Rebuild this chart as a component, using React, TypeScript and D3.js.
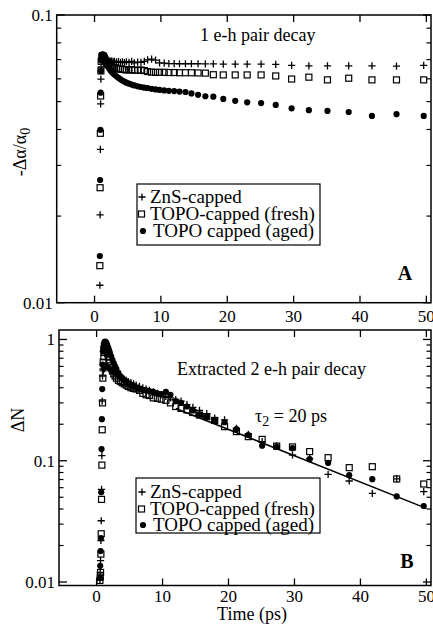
import React from "react";
import * as d3 from "d3";

const W = 433;
const H = 626;
const FONT = '"Liberation Serif", "Times New Roman", Times, serif';

// ---------- Panel A data (1 e-h pair decay) ----------
const tA = [
  0.8, 0.84, 0.88, 0.92, 0.96,
  1.0, 1.1, 1.2, 1.3, 1.4, 1.5, 1.6, 1.7, 1.8, 1.9,
  2.0, 2.2, 2.4, 2.6, 2.8,
  3.0, 3.3, 3.6, 3.9, 4.2, 4.5, 4.8,
  5.2, 5.6, 6.0,
  6.5, 7.0, 7.5, 8.0,
  8.6, 9.2, 9.8,
  10.5, 11.2, 12.0, 12.8, 13.7, 14.6, 15.6, 16.7,
  17.9, 19.4, 21.2, 23.0, 25.1, 27.3, 29.7, 32.3, 35.1, 38.3, 41.8, 45.5, 49.6,
];
const znsA = [
  0.0115, 0.0202, 0.0341, 0.0491, 0.0599,
  0.066, 0.07, 0.0712, 0.0716, 0.0714, 0.071, 0.0706, 0.0702, 0.07, 0.0697,
  0.0695, 0.0692, 0.069, 0.0693, 0.0688,
  0.069, 0.0686, 0.0689, 0.0684, 0.0687, 0.0683, 0.0688,
  0.0684, 0.069, 0.0682,
  0.0686, 0.0684, 0.069, 0.0698,
  0.0702, 0.0697, 0.0682,
  0.068, 0.0678, 0.0678, 0.0677, 0.0677, 0.0677, 0.0677, 0.0676,
  0.0676, 0.0675, 0.0675, 0.0675, 0.0675, 0.0674, 0.0668, 0.0666, 0.0666, 0.0666, 0.0666, 0.0664, 0.0668,
];
const freshA = [
  0.01345, 0.0251, 0.0388, 0.0523, 0.0639,
  0.069, 0.0715, 0.0722, 0.072, 0.0714, 0.0706, 0.0698, 0.069, 0.0684, 0.0678,
  0.0674, 0.0668, 0.0664, 0.066, 0.0657,
  0.0655, 0.0652, 0.065, 0.0649, 0.0647, 0.0646, 0.0645,
  0.0644, 0.0646, 0.0643,
  0.0642, 0.0644, 0.0641, 0.0636,
  0.0633, 0.0632, 0.0632,
  0.0632, 0.0631, 0.0631, 0.063, 0.063, 0.063, 0.0629, 0.0628,
  0.062, 0.0619, 0.0619, 0.0619, 0.0619, 0.0614, 0.0599, 0.0608, 0.0595, 0.0603, 0.0595, 0.0595, 0.0595,
];
const agedA = [
  0.01453, 0.0267, 0.0399, 0.0537, 0.0639,
  0.0695, 0.072, 0.073, 0.0728, 0.072, 0.071, 0.07, 0.069, 0.068, 0.0672,
  0.0664, 0.0652, 0.0642, 0.0634, 0.0627,
  0.0621, 0.0612, 0.0605, 0.0598, 0.0592, 0.0587, 0.0582,
  0.0577, 0.0573, 0.0569,
  0.0565, 0.0562, 0.0559, 0.0557,
  0.0554, 0.0551, 0.0549,
  0.0547, 0.0545, 0.0544, 0.0542, 0.054, 0.0534, 0.0528, 0.0522,
  0.052, 0.0511, 0.0503, 0.0497, 0.0494, 0.0487, 0.0474, 0.0467, 0.0464, 0.046, 0.0446, 0.0452, 0.0446,
];

// ---------- Panel B data (extracted 2 e-h pair decay) ----------
const tB = [
  0.5, 0.55, 0.6, 0.65, 0.7, 0.75, 0.8, 0.85, 0.9, 0.95,
  1.0, 1.1, 1.2, 1.3, 1.4, 1.5, 1.6, 1.7, 1.8, 1.9,
  2.0, 2.2, 2.4, 2.6, 2.8,
  3.0, 3.3, 3.6, 3.9, 4.2, 4.5, 4.8,
  5.2, 5.6, 6.0,
  6.5, 7.0, 7.5, 8.0,
  8.6, 9.2, 9.8,
  10.5, 11.2, 12.0, 12.8, 13.7, 14.6, 15.6, 16.7,
  17.9, 19.4, 21.2, 23.0, 25.1, 27.3, 29.7, 32.3, 35.1, 38.3, 41.8, 45.5, 49.6,
];
const znsB = [
  0.0105, 0.012, 0.015, 0.022, 0.032, 0.058, 0.11, 0.31, 0.5, 0.57,
  0.55, 0.57, 0.58, 0.59, 0.6, 0.6, 0.6, 0.59, 0.58, 0.575,
  0.57, 0.56, 0.55, 0.54, 0.53,
  0.52, 0.5, 0.49, 0.48, 0.47, 0.46, 0.45,
  0.44, 0.43, 0.42,
  0.41, 0.4, 0.39, 0.38,
  0.37, 0.36, 0.35,
  0.34, 0.33, 0.32, 0.31, 0.29, 0.275, 0.26, 0.245,
  0.225, 0.217, 0.185, 0.165, 0.144, 0.132, 0.1115, 0.104, 0.0773, 0.0681, 0.0539, 0.0708, 0.0556,
];
const freshB = [
  0.0103, 0.011, 0.012, 0.017, 0.025, 0.048, 0.092, 0.18, 0.3, 0.48,
  0.65, 0.72, 0.78, 0.82, 0.84, 0.83, 0.8, 0.76, 0.72, 0.68,
  0.64, 0.59, 0.55, 0.52, 0.5,
  0.48, 0.46, 0.45, 0.44, 0.43, 0.42, 0.41,
  0.4, 0.395, 0.39,
  0.38, 0.36, 0.35, 0.345,
  0.33, 0.327, 0.322,
  0.315, 0.3, 0.28, 0.27, 0.262, 0.25, 0.238, 0.231,
  0.215, 0.191, 0.174, 0.158, 0.15, 0.132, 0.13, 0.119, 0.106, 0.0877, 0.0893, 0.0708, 0.0643,
];
const agedB = [
  0.0108, 0.0136, 0.018, 0.023, 0.055, 0.125, 0.22, 0.39, 0.62, 0.8,
  0.86, 0.92, 0.95, 0.96, 0.95, 0.93, 0.9, 0.87, 0.84, 0.81,
  0.78, 0.73, 0.68, 0.64, 0.6,
  0.57, 0.53, 0.5, 0.48, 0.46, 0.44, 0.43,
  0.42, 0.41, 0.4,
  0.39, 0.385, 0.38, 0.375,
  0.37, 0.36, 0.355,
  0.37, 0.35, 0.31, 0.3, 0.28, 0.26, 0.24, 0.23,
  0.215, 0.208, 0.182, 0.163, 0.133, 0.13, 0.127, 0.103, 0.096, 0.076, 0.0705, 0.0508, 0.0423,
];
// tau2 = 20 ps fit (straight on log axis): endpoints
const fitT = [12, 50];
const fitV = [0.27, 0.0405];

const xTicks = [0, 10, 20, 30, 40, 50];
const legendLabels = ["ZnS-capped", "TOPO-capped (fresh)", "TOPO capped (aged)"];
const markerKinds = ["plus", "square", "circle"];

function Marker({ kind, x, y }: { kind: string; x: number; y: number }) {
  if (kind === "plus")
    return (
      <path
        d={`M${x - 3.6},${y}H${x + 3.6}M${x},${y - 3.6}V${y + 3.6}`}
        stroke="#000"
        strokeWidth={1.3}
        fill="none"
      />
    );
  if (kind === "square")
    return <rect x={x - 3} y={y - 3} width={6} height={6} fill="none" stroke="#000" strokeWidth={1.2} />;
  return <circle cx={x} cy={y} r={3.1} fill="#000" />;
}

type PanelProps = {
  left: number;
  right: number;
  top: number;
  bottom: number;
  yDomain: [number, number];
  yMajor: number[];
  yLabels: string[];
  t: number[];
  series: number[][];
  fit?: boolean;
  children?: React.ReactNode;
  xLabelY: number;
};

function Panel(p: PanelProps) {
  const x = d3.scaleLinear().domain([-5.7, 50.7]).range([p.left, p.right]);
  const y = d3.scaleLog().domain(p.yDomain).range([p.bottom, p.top]);
  const minor: number[] = [];
  [0.01, 0.1].forEach((d) => {
    for (let k = 2; k <= 9; k++) {
      const v = d * k;
      if (v > p.yDomain[0] && v < p.yDomain[1]) minor.push(v);
    }
  });
  const order = [2, 1, 0];
  const line = d3
    .line<number>()
    .x((_, i) => x(fitT[i]))
    .y((d) => y(d));
  return (
    <g>
      {p.fit && <path d={line(fitV) || ""} stroke="#000" strokeWidth={1.5} fill="none" />}
      {order.map((si) =>
        p.series[si].map((v, i) =>
          i < p.t.length ? <Marker key={`${si}-${i}`} kind={markerKinds[si]} x={x(p.t[i])} y={y(v)} /> : null
        )
      )}
      <rect
        x={p.left}
        y={p.top}
        width={p.right - p.left}
        height={p.bottom - p.top}
        fill="none"
        stroke="#000"
        strokeWidth={1.5}
      />
      {xTicks.map((d) => (
        <g key={"xt" + d}>
          <line x1={x(d)} x2={x(d)} y1={p.bottom} y2={p.bottom - 7} stroke="#000" strokeWidth={1.3} />
          <line x1={x(d)} x2={x(d)} y1={p.top} y2={p.top + 7} stroke="#000" strokeWidth={1.3} />
          <text x={x(d)} y={p.xLabelY} textAnchor="middle" fontSize={17} fontFamily={FONT}>
            {d}
          </text>
        </g>
      ))}
      {p.yMajor.map((d, i) => (
        <g key={"ym" + d}>
          <line x1={p.left} x2={p.left + 8} y1={y(d)} y2={y(d)} stroke="#000" strokeWidth={1.3} />
          <line x1={p.right} x2={p.right - 8} y1={y(d)} y2={y(d)} stroke="#000" strokeWidth={1.3} />
          <text x={p.left - 4} y={y(d)} dy="0.35em" textAnchor="end" fontSize={17} fontFamily={FONT}>
            {p.yLabels[i]}
          </text>
        </g>
      ))}
      {minor.map((d) => (
        <g key={"yn" + d}>
          <line x1={p.left} x2={p.left + 4.5} y1={y(d)} y2={y(d)} stroke="#000" strokeWidth={1.2} />
          <line x1={p.right} x2={p.right - 4.5} y1={y(d)} y2={y(d)} stroke="#000" strokeWidth={1.2} />
        </g>
      ))}
      {p.children}
    </g>
  );
}

function Legend({ x0, y0, x1, y1, rows }: { x0: number; y0: number; x1: number; y1: number; rows: number[] }) {
  const mx = [142, 141.5, 143];
  const tx = [150, 150, 153];
  return (
    <g>
      <rect x={x0} y={y0} width={x1 - x0} height={y1 - y0} fill="#fff" stroke="#000" strokeWidth={1.2} />
      {legendLabels.map((l, i) => (
        <g key={l}>
          <Marker kind={markerKinds[i]} x={mx[i]} y={rows[i]} />
          <text x={tx[i]} y={rows[i]} dy="0.33em" fontSize={19} fontFamily={FONT}>
            {l}
          </text>
        </g>
      ))}
    </g>
  );
}

export default function App() {
  return (
    <svg width={W} height={H} style={{ position: "absolute", left: 0, top: 0, background: "#fff" }}>
      <rect x={0} y={0} width={W} height={H} fill="#fff" />
      <Panel
        left={56.7}
        right={431}
        top={15}
        bottom={302.7}
        yDomain={[0.01, 0.1]}
        yMajor={[0.01, 0.1]}
        yLabels={["0.01", "0.1"]}
        t={tA}
        series={[znsA, freshA, agedA]}
        xLabelY={322}
      >
        <text x={200} y={41} fontSize={18} fontFamily={FONT}>
          1 e-h pair decay
        </text>
        <Legend x0={137} y0={184} x1={320} y1={245} rows={[197, 214, 231]} />
        <text x={405} y={280} textAnchor="middle" fontSize={20} fontWeight="bold" fontFamily={FONT}>
          A
        </text>
      </Panel>
      <Panel
        left={59}
        right={431}
        top={330}
        bottom={585.5}
        yDomain={[0.00936, 1.197]}
        yMajor={[0.01, 0.1, 1]}
        yLabels={["0.01", "0.1", "1"]}
        t={tB}
        series={[znsB, freshB, agedB]}
        fit
        xLabelY={602}
      >
        <text x={177} y={375} fontSize={18} fontFamily={FONT}>
          Extracted 2 e-h pair decay
        </text>
        <text x={255} y={422} fontSize={18} fontFamily={FONT}>
          τ<tspan dy={4} fontSize={14}>2</tspan>
          <tspan dy={-4}> = 20 ps</tspan>
        </text>
        <Legend x0={136} y0={478} x1={320} y1={533} rows={[492, 509, 525]} />
        <text x={407} y={568} textAnchor="middle" fontSize={20} fontWeight="bold" fontFamily={FONT}>
          B
        </text>
      </Panel>
      <text
        transform="translate(26,152) rotate(-90)"
        textAnchor="middle"
        fontSize={18}
        fontFamily={FONT}
      >
        -Δα/α<tspan dy={4} fontSize={14}>0</tspan>
      </text>
      <text transform="translate(24,420) rotate(-90)" textAnchor="middle" fontSize={18} fontFamily={FONT}>
        ΔN
      </text>
      <text x={252} y={620} textAnchor="middle" fontSize={18} fontFamily={FONT}>
        Time (ps)
      </text>
    </svg>
  );
}
